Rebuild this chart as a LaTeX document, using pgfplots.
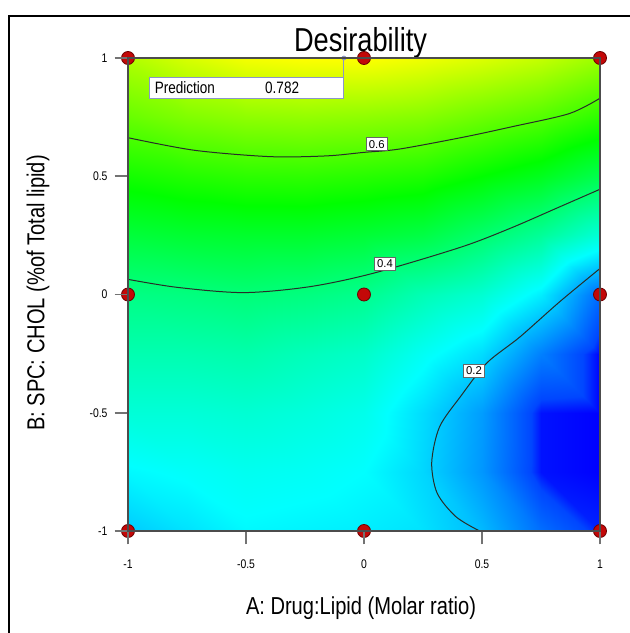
\documentclass[border=0pt]{standalone}
\usepackage{fontspec}
\setmainfont{Liberation Sans}
\usepackage{pgfplots}
\pgfplotsset{compat=1.18}

\definecolor{ptred}{RGB}{195,8,8}
\definecolor{ptedge}{RGB}{110,0,0}
\definecolor{flagc}{RGB}{140,150,200}
\definecolor{contc}{RGB}{40,45,40}
\newcommand{\nar}[1]{\scalebox{0.82}[1]{#1}}

\begin{document}
\begin{tikzpicture}
% page = 629 x 633 px, 1 px = 0.6pt, axis corner at px (128,531)
\begin{axis}[
    set layers, axis on top,
    scale only axis, width=283.2pt, height=283.8pt,
    xmin=-1, xmax=1, ymin=-1, ymax=1,
    xtick={-1,-0.5,0,0.5,1}, ytick={-1,-0.5,0,0.5,1},
    tick pos=left,
    tick align=outside, major tick length=8pt,
    tick style={black!55, line width=1.1pt},
    axis line style={black!70, line width=0.7pt},
    /pgf/number format/assume math mode=true,
    tick label style={font=\fontsize{7.5}{8}\selectfont},
    xticklabel={\scalebox{0.83}[1]{\pgfmathprintnumber{\tick}}},
    yticklabel={\scalebox{0.83}[1]{\pgfmathprintnumber{\tick}}},
    xticklabel style={anchor=center, yshift=-12pt},
    yticklabel style={anchor=east, xshift=-0.8pt},
    clip=false,
    colormap={desir}{rgb255(0cm)=(0,0,255); rgb255(2cm)=(0,70,255); rgb255(18cm)=(0,255,255); rgb255(44cm)=(0,255,0); rgb255(70cm)=(255,255,0)},
    point meta min=0.08, point meta max=0.78,
]
% desirability, 9 x 9 grid
\addplot[surf, shader=interp, point meta=\thisrow{z}] table[x=x, y=y] {
x y z
-1 -1 0.215
-0.75 -1 0.235
-0.5 -1 0.255
-0.25 -1 0.25
0 -1 0.245
0.25 -1 0.235
0.5 -1 0.20
0.75 -1 0.135
1 -1 0.09

-1 -0.75 0.255
-0.75 -0.75 0.265
-0.5 -0.75 0.275
-0.25 -0.75 0.27
0 -0.75 0.26
0.25 -0.75 0.225
0.5 -0.75 0.17
0.75 -0.75 0.085
1 -0.75 0.01

-1 -0.5 0.30
-0.75 -0.5 0.30
-0.5 -0.5 0.305
-0.25 -0.5 0.295
0 -0.5 0.28
0.25 -0.5 0.23
0.5 -0.5 0.175
0.75 -0.5 0.085
1 -0.5 0.0

-1 -0.25 0.34
-0.75 -0.25 0.34
-0.5 -0.25 0.345
-0.25 -0.25 0.33
0 -0.25 0.315
0.25 -0.25 0.27
0.5 -0.25 0.23
0.75 -0.25 0.15
1 -0.25 0.03

-1 0 0.385
-0.75 0 0.39
-0.5 0 0.398
-0.25 0 0.39
0 0 0.375
0.25 0 0.335
0.5 0 0.305
0.75 0 0.245
1 0 0.13

-1 0.25 0.46
-0.75 0.25 0.47
-0.5 0.25 0.475
-0.25 0.25 0.475
0 0.25 0.465
0.25 0.25 0.45
0.5 0.25 0.41
0.75 0.25 0.365
1 0.25 0.30

-1 0.5 0.54
-0.75 0.5 0.555
-0.5 0.5 0.565
-0.25 0.5 0.567
0 0.5 0.56
0.25 0.5 0.55
0.5 0.5 0.52
0.75 0.5 0.49
1 0.5 0.44

-1 0.75 0.625
-0.75 0.75 0.65
-0.5 0.75 0.665
-0.25 0.75 0.67
0 0.75 0.665
0.25 0.75 0.655
0.5 0.75 0.63
0.75 0.75 0.605
1 0.75 0.565

-1 1 0.70
-0.75 1 0.74
-0.5 1 0.77
-0.25 1 0.78
0 1 0.782
0.25 1 0.765
0.5 1 0.745
0.75 1 0.72
1 1 0.68
};
% contour lines
\addplot[contc, line width=0.6pt, smooth, tension=0.5] coordinates {
(-1,0.663) (-0.72,0.61) (-0.40,0.583) (-0.16,0.586) (0.0,0.601) (0.15,0.615)
(0.42,0.665) (0.63,0.71) (0.87,0.765) (1,0.83)};
\addplot[contc, line width=0.6pt, smooth, tension=0.5] coordinates {
(-1,0.064) (-0.79,0.030) (-0.51,0.008) (-0.23,0.033) (0.04,0.09) (0.41,0.20)
(0.62,0.28) (0.83,0.371) (1,0.445)};
\addplot[contc, line width=0.6pt, smooth, tension=0.5] coordinates {
(1,0.11) (0.83,-0.03) (0.66,-0.18) (0.52,-0.29) (0.41,-0.43) (0.32,-0.56)
(0.287,-0.71) (0.31,-0.84) (0.39,-0.94) (0.49,-1)};
\node[fill=white, draw=black!60, line width=0.4pt, inner sep=1.5pt, font=\fontsize{6.8}{7}\selectfont] at (axis cs:0.054,0.635) {0.6};
\node[fill=white, draw=black!60, line width=0.4pt, inner sep=1.5pt, font=\fontsize{6.8}{7}\selectfont] at (axis cs:0.089,0.129) {0.4};
\node[fill=white, draw=black!60, line width=0.4pt, inner sep=1.5pt, font=\fontsize{6.8}{7}\selectfont] at (axis cs:0.466,-0.323) {0.2};
% prediction flag
\draw[flagc, line width=0.6pt] (axis cs:-0.085,1) -- (axis cs:-0.085,0.918);
\draw[flagc, fill=white, line width=0.6pt] (axis cs:-0.907,0.830) rectangle (axis cs:-0.085,0.918);
\node[anchor=west, inner sep=0pt, font=\fontsize{9.9}{11}\selectfont] at (axis cs:-0.888,0.874) {\nar{Prediction}};
\node[anchor=west, inner sep=0pt, font=\fontsize{9.9}{11}\selectfont] at (axis cs:-0.42,0.874) {\nar{0.782}};
\addplot[only marks, mark=*, mark size=1.2pt, flagc, on layer=axis foreground] coordinates {(-0.085,1)};
% design points
\addplot[only marks, mark=*, mark size=3.9pt, mark options={fill=ptred, draw=ptedge, line width=0.5pt}, on layer=axis foreground] coordinates {
(-1,-1) (0,-1) (1,-1) (-1,0) (0,0) (1,0) (-1,1) (0,1) (1,1)};
\end{axis}
\node[anchor=base, font=\fontsize{19.9}{22}\selectfont] at (139.5pt,287.4pt) {\nar{Desirability}};
\node[anchor=base, font=\fontsize{14.7}{16}\selectfont] at (139.8pt,-49.8pt) {\nar{A: Drug:Lipid (Molar ratio)}};
\node[rotate=90, font=\fontsize{14.7}{16}\selectfont] at (-54pt,142.8pt) {\nar{B: SPC: CHOL (\%of Total lipid)}};
% outer frame
\draw[black, line width=1.2pt] (-71.5pt,-70pt) -- (-71.5pt,309.2pt) -- (310pt,309.2pt);
\pgfresetboundingbox
\useasboundingbox (-76.8pt,-61.2pt) rectangle (300.6pt,318.6pt);
\end{tikzpicture}
\end{document}
